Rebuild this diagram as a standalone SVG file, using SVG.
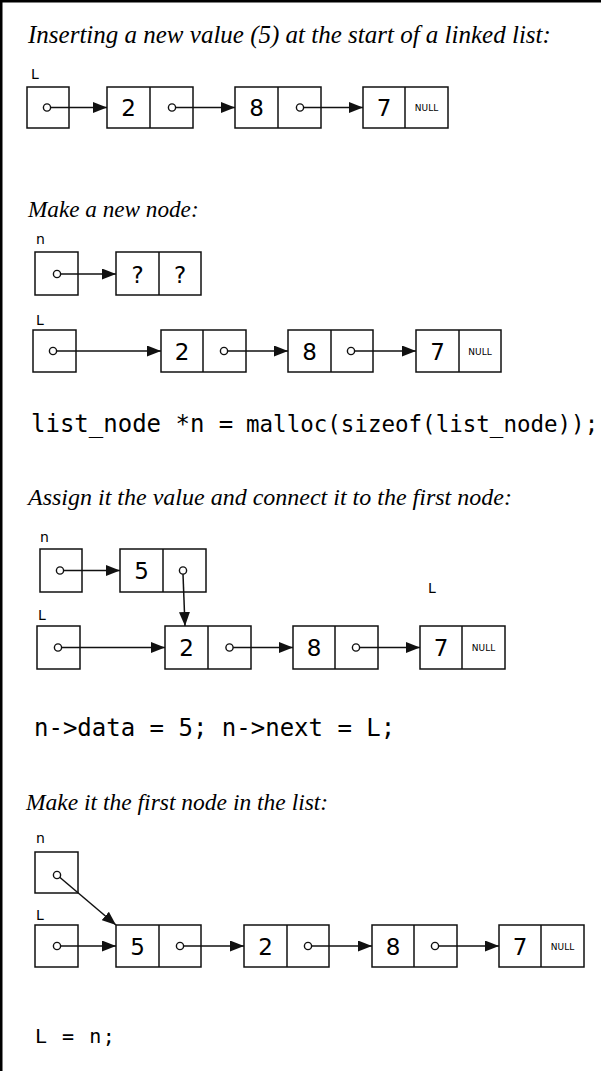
<svg xmlns="http://www.w3.org/2000/svg" width="601" height="1071" viewBox="0 0 601 1071">
<defs>
<style>
.box{fill:#fff;stroke:#111;stroke-width:1.5}
.div{stroke:#111;stroke-width:1.5}
.dot{fill:#fff;stroke:#111;stroke-width:1.4}
.link{stroke:#111;stroke-width:1.5;fill:none;marker-end:url(#ah)}
.title{font-family:"Liberation Serif",serif;font-style:italic;fill:#000}
.lbl{font-family:"DejaVu Sans",sans-serif;font-size:14px;fill:#000}
.val{font-family:"DejaVu Sans",sans-serif;font-size:23px;text-anchor:middle;fill:#000}
.null{font-family:"DejaVu Sans",sans-serif;font-size:9px;text-anchor:middle;fill:#000}
.code{font-family:"DejaVu Sans Mono",monospace;fill:#000;white-space:pre}
</style>
<marker id="ah" markerUnits="userSpaceOnUse" markerWidth="14" markerHeight="11" refX="14" refY="5.5" orient="auto">
<path d="M0,0 L14,5.5 L0,11 z" fill="#111"/>
</marker>
</defs>
<rect x="0" y="0" width="601" height="1071" fill="#fff"/>
<rect x="0" y="0" width="601" height="2.5" fill="#000"/>
<rect x="0" y="0" width="2.5" height="1071" fill="#000"/>

<!-- Section 1 -->
<text class="title" x="28" y="43" font-size="25">Inserting a new value (5) at the start of a linked list:</text>
<g id="s1-L">
<text class="lbl" x="31" y="79">L</text>
<rect class="box" x="27" y="87" width="42" height="41"/>
<circle class="dot" cx="47" cy="107.5" r="3.6"/>
</g>
<g id="s1-n2">
<rect class="box" x="107" y="87" width="86" height="41"/>
<line class="div" x1="150" y1="87" x2="150" y2="128"/>
<text class="val" x="128.5" y="116">2</text>
<circle class="dot" cx="172" cy="107.5" r="3.6"/>
</g>
<g id="s1-n8">
<rect class="box" x="235" y="87" width="86" height="41"/>
<line class="div" x1="278" y1="87" x2="278" y2="128"/>
<text class="val" x="256.5" y="116">8</text>
<circle class="dot" cx="300" cy="107.5" r="3.6"/>
</g>
<g id="s1-n7">
<rect class="box" x="363" y="87" width="85" height="41"/>
<line class="div" x1="405" y1="87" x2="405" y2="128"/>
<text class="val" x="384" y="116">7</text>
<text class="null" x="426.5" y="111">NULL</text>
</g>
<g id="s1-links">
<line class="link" x1="50.6" y1="107.5" x2="107" y2="107.5"/>
<line class="link" x1="175.6" y1="107.5" x2="235" y2="107.5"/>
<line class="link" x1="303.6" y1="107.5" x2="363" y2="107.5"/>
</g>

<!-- Section 2 -->
<text class="title" x="28" y="217" font-size="23.2">Make a new node:</text>
<g id="s2-n">
<text class="lbl" x="36" y="244">n</text>
<rect class="box" x="35" y="252" width="43" height="43"/>
<circle class="dot" cx="57" cy="274" r="3.6"/>
</g>
<g id="s2-new">
<rect class="box" x="116" y="252" width="85" height="43"/>
<line class="div" x1="159" y1="252" x2="159" y2="295"/>
<text class="val" x="137.5" y="282.5">?</text>
<text class="val" x="180" y="282.5">?</text>
</g>
<g id="s2-L">
<text class="lbl" x="36" y="325">L</text>
<rect class="box" x="33" y="330" width="43" height="42"/>
<circle class="dot" cx="53" cy="351" r="3.6"/>
</g>
<g id="s2-n2">
<rect class="box" x="161" y="330" width="85" height="42"/>
<line class="div" x1="203" y1="330" x2="203" y2="372"/>
<text class="val" x="182" y="359.5">2</text>
<circle class="dot" cx="224" cy="351" r="3.6"/>
</g>
<g id="s2-n8">
<rect class="box" x="288" y="330" width="85" height="42"/>
<line class="div" x1="331" y1="330" x2="331" y2="372"/>
<text class="val" x="309.5" y="359.5">8</text>
<circle class="dot" cx="351" cy="351" r="3.6"/>
</g>
<g id="s2-n7">
<rect class="box" x="416" y="330" width="85" height="42"/>
<line class="div" x1="459" y1="330" x2="459" y2="372"/>
<text class="val" x="437.5" y="359.5">7</text>
<text class="null" x="480" y="354.5">NULL</text>
</g>
<g id="s2-links">
<line class="link" x1="60.6" y1="274" x2="116" y2="274"/>
<line class="link" x1="56.6" y1="351" x2="161" y2="351"/>
<line class="link" x1="227.6" y1="351" x2="288" y2="351"/>
<line class="link" x1="354.6" y1="351" x2="416" y2="351"/>
</g>
<text class="code" y="432"><tspan x="31" font-size="24">list_node *n = </tspan><tspan x="246" font-size="22.5">malloc(sizeof(list_node));</tspan></text>

<!-- Section 3 -->
<text class="title" x="28" y="505" font-size="24">Assign it the value and connect it to the first node:</text>
<g id="s3-n">
<text class="lbl" x="40" y="542">n</text>
<rect class="box" x="40" y="549" width="42" height="43"/>
<circle class="dot" cx="60" cy="570.5" r="3.6"/>
</g>
<g id="s3-n5">
<rect class="box" x="120" y="549" width="86" height="43"/>
<line class="div" x1="163" y1="549" x2="163" y2="592"/>
<text class="val" x="141.5" y="579">5</text>
<circle class="dot" cx="183" cy="570.5" r="3.6"/>
</g>
<text class="lbl" x="428" y="593">L</text>
<g id="s3-L">
<text class="lbl" x="38" y="620">L</text>
<rect class="box" x="37" y="626" width="43" height="43"/>
<circle class="dot" cx="58" cy="647.5" r="3.6"/>
</g>
<g id="s3-n2">
<rect class="box" x="165" y="626" width="86" height="43"/>
<line class="div" x1="208" y1="626" x2="208" y2="669"/>
<text class="val" x="186.5" y="656">2</text>
<circle class="dot" cx="229.5" cy="647.5" r="3.6"/>
</g>
<g id="s3-n8">
<rect class="box" x="293" y="626" width="85" height="43"/>
<line class="div" x1="335" y1="626" x2="335" y2="669"/>
<text class="val" x="314" y="656">8</text>
<circle class="dot" cx="356" cy="647.5" r="3.6"/>
</g>
<g id="s3-n7">
<rect class="box" x="420" y="626" width="85" height="43"/>
<line class="div" x1="462" y1="626" x2="462" y2="669"/>
<text class="val" x="441" y="656">7</text>
<text class="null" x="483.5" y="651">NULL</text>
</g>
<g id="s3-links">
<line class="link" x1="63.6" y1="570.5" x2="120" y2="570.5"/>
<line class="link" x1="183" y1="574.1" x2="185" y2="626"/>
<line class="link" x1="61.6" y1="647.5" x2="165" y2="647.5"/>
<line class="link" x1="233.1" y1="647.5" x2="293" y2="647.5"/>
<line class="link" x1="359.6" y1="647.5" x2="420" y2="647.5"/>
</g>
<text class="code" x="34" y="736" font-size="24">n-&gt;data = 5; n-&gt;next = L;</text>

<!-- Section 4 -->
<text class="title" x="26" y="810" font-size="23.5">Make it the first node in the list:</text>
<g id="s4-n">
<text class="lbl" x="36" y="843">n</text>
<rect class="box" x="35" y="852" width="43" height="41"/>
<circle class="dot" cx="57" cy="875" r="3.6"/>
</g>
<g id="s4-L">
<text class="lbl" x="36" y="920">L</text>
<rect class="box" x="35" y="925" width="43" height="42"/>
<circle class="dot" cx="57" cy="946" r="3.6"/>
</g>
<g id="s4-n5">
<rect class="box" x="116" y="925" width="85" height="42"/>
<line class="div" x1="159" y1="925" x2="159" y2="967"/>
<text class="val" x="137.5" y="954.5">5</text>
<circle class="dot" cx="180" cy="946" r="3.6"/>
</g>
<g id="s4-n2">
<rect class="box" x="244" y="925" width="85" height="42"/>
<line class="div" x1="287" y1="925" x2="287" y2="967"/>
<text class="val" x="265.5" y="954.5">2</text>
<circle class="dot" cx="308" cy="946" r="3.6"/>
</g>
<g id="s4-n8">
<rect class="box" x="372" y="925" width="85" height="42"/>
<line class="div" x1="414" y1="925" x2="414" y2="967"/>
<text class="val" x="393" y="954.5">8</text>
<circle class="dot" cx="435" cy="946" r="3.6"/>
</g>
<g id="s4-n7">
<rect class="box" x="499" y="925" width="85" height="42"/>
<line class="div" x1="541" y1="925" x2="541" y2="967"/>
<text class="val" x="520" y="954.5">7</text>
<text class="null" x="562.5" y="949.5">NULL</text>
</g>
<g id="s4-links">
<line class="link" x1="59.7" y1="877.3" x2="116" y2="925"/>
<line class="link" x1="60.6" y1="946" x2="116" y2="946"/>
<line class="link" x1="183.6" y1="946" x2="244" y2="946"/>
<line class="link" x1="311.6" y1="946" x2="372" y2="946"/>
<line class="link" x1="438.6" y1="946" x2="499" y2="946"/>
</g>
<text class="code" x="35" y="1043" font-size="20" letter-spacing="1.5">L = n;</text>
</svg>
